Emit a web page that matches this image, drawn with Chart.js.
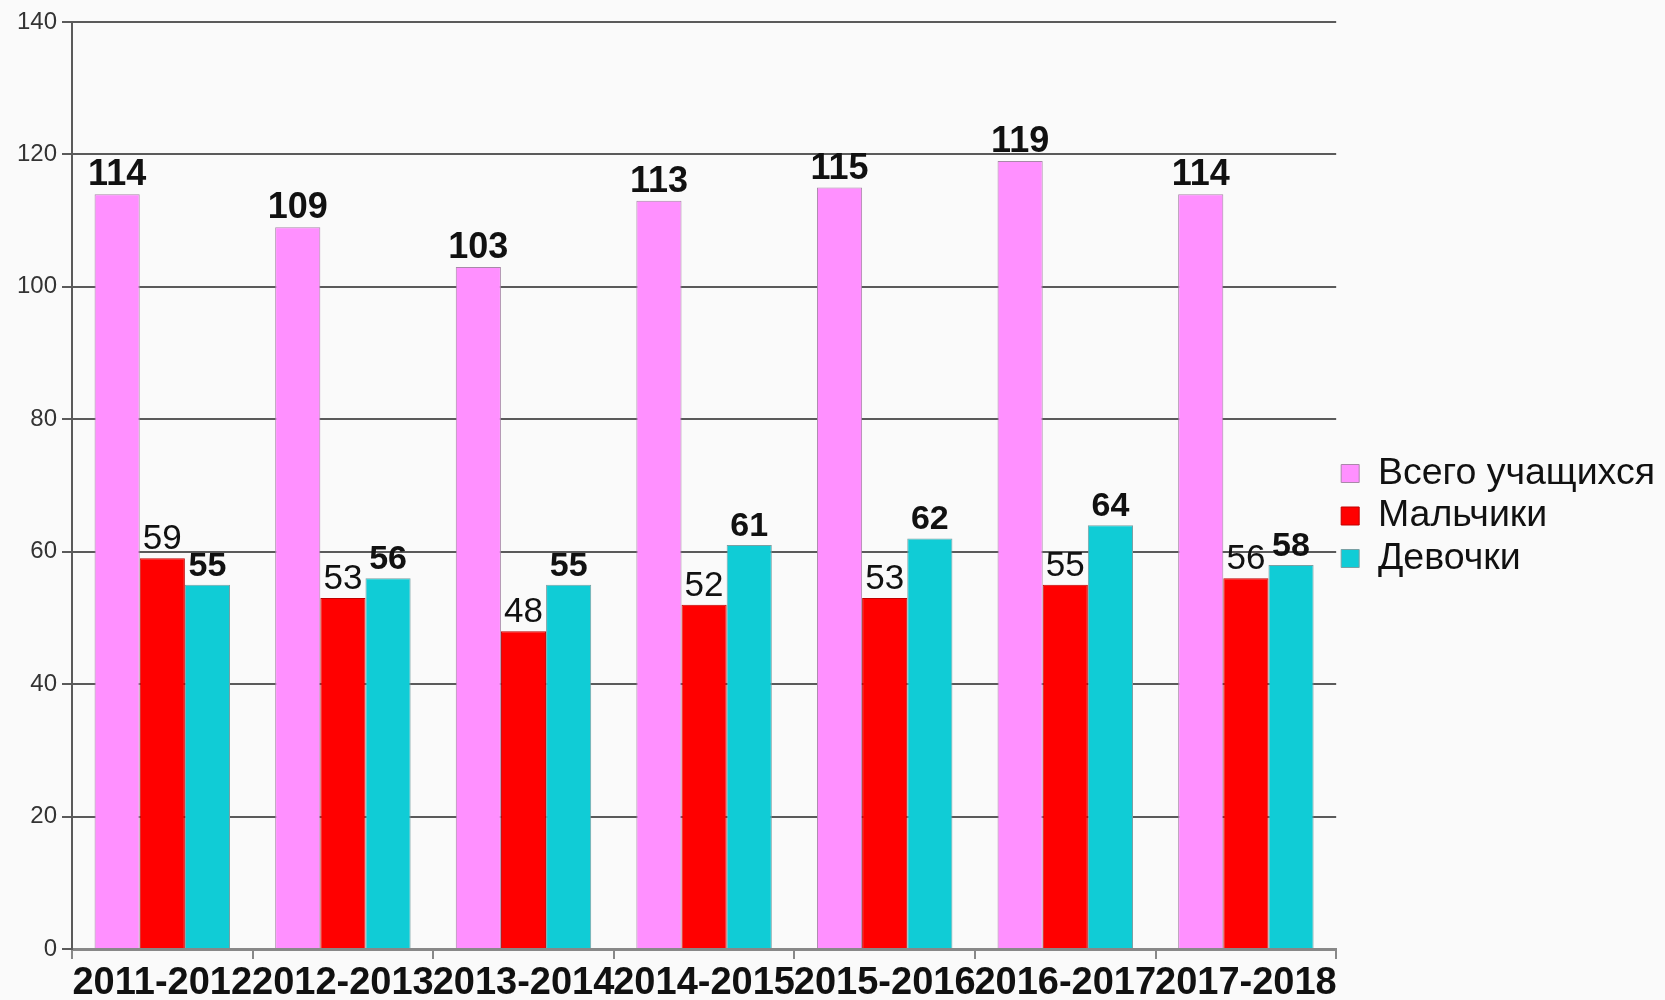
<!DOCTYPE html>
<html>
<head>
<meta charset="utf-8">
<script src="https://cdn.jsdelivr.net/npm/chart.js@4.4.1/dist/chart.umd.min.js"></script>
<style>
  html, body { margin: 0; padding: 0; background: #fafafa; }
  #wrap { width: 1665px; height: 1000px; position: relative; }
</style>
</head>
<body>
<div id="wrap"><canvas id="c" width="1665" height="1000"></canvas></div>
<script>
const categories = ["2011-2012", "2012-2013", "2013-2014", "2014-2015", "2015-2016", "2016-2017", "2017-2018"];
const totalStudents = [114, 109, 103, 113, 115, 119, 114];
const boys = [59, 53, 48, 52, 53, 55, 56];
const girls = [55, 56, 55, 61, 62, 64, 58];
const seriesNames = ["Всего учащихся", "Мальчики", "Девочки"];
const yTicks = [0, 20, 40, 60, 80, 100, 120, 140];

const FONT = '"Liberation Sans", Arial, sans-serif';

const valueLabels = {
  id: 'valueLabels',
  afterDatasetsDraw(chart) {
    const ctx = chart.ctx;
    chart.data.datasets.forEach((ds, i) => {
      const meta = chart.getDatasetMeta(i);
      ctx.save();
      ctx.fillStyle = '#111';
      ctx.textAlign = 'center';
      ctx.textBaseline = 'alphabetic';
      ctx.font = (i === 0 ? 'bold 36px ' : (i === 2 ? 'bold 34px ' : '35px ')) + FONT;
      meta.data.forEach((el, j) => {
        ctx.fillText(String(ds.data[j]), el.x, el.y - 9);
      });
      ctx.restore();
    });
  }
};

new Chart(document.getElementById('c'), {
  type: 'bar',
  data: {
    labels: categories,
    datasets: [
      { label: seriesNames[0], data: totalStudents, backgroundColor: '#ff90ff', borderColor: '#a888a8', borderWidth: 1 },
      { label: seriesNames[1], data: boys, backgroundColor: '#ff0000', borderColor: '#c00000', borderWidth: 1 },
      { label: seriesNames[2], data: girls, backgroundColor: '#10ccd6', borderColor: '#7aa0a4', borderWidth: 1 }
    ]
  },
  options: {
    responsive: false,
    animation: false,
    devicePixelRatio: 1,
    layout: { padding: { left: 17, top: 22, right: 0, bottom: 0 } },
    datasets: { bar: { categoryPercentage: 0.75, barPercentage: 1.0 } },
    plugins: {
      tooltip: { enabled: false },
      legend: {
        position: 'right',
        align: 'center',
        title: { display: true, text: ' ', padding: 0, font: { size: 10, lineHeight: 1 } },
        labels: {
          boxWidth: 18,
          boxHeight: 18,
          padding: 5,
          color: '#111',
          font: { size: 37.5, family: FONT, lineHeight: 1 }
        }
      }
    },
    scales: {
      x: {
        afterFit(axis) { axis.height = 51; },
        grid: { display: true, drawOnChartArea: false, drawTicks: true, tickLength: 10, color: '#888', lineWidth: 2 },
        border: { display: true, color: '#888', width: 3 },
        ticks: {
          autoSkip: false, maxRotation: 0, minRotation: 0, padding: 2,
          color: '#111',
          font: { size: 38, weight: 'bold', family: FONT }
        }
      },
      y: {
        min: 0, max: 140,
        afterFit(axis) { axis.width = 55; },
        afterBuildTicks(axis) { axis.ticks = yTicks.map(v => ({ value: v })); },
        grid: { color: '#5a5a5a', lineWidth: 2, tickLength: 10, drawTicks: true },
        border: { display: true, color: '#5a5a5a', width: 2 },
        ticks: {
          padding: 5,
          color: '#333',
          font: { size: 24, family: FONT }
        }
      }
    }
  },
  plugins: [valueLabels]
});
</script>
</body>
</html>
